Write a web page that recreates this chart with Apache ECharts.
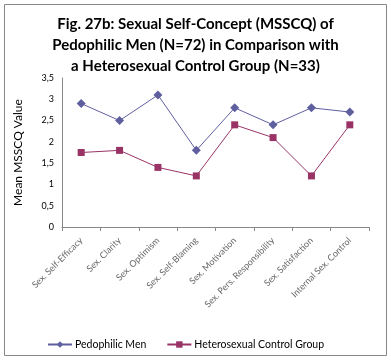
<!DOCTYPE html>
<html><head><meta charset="utf-8">
<script src="https://cdn.jsdelivr.net/npm/echarts@6/dist/echarts.min.js"></script>
<style>html,body{margin:0;padding:0;background:#fff}#c{width:391px;height:361px}</style>
</head><body><div id="c"></div>
<script>
const categories = ["Sex. Self-Efficacy","Sex. Clarity","Sex. Optimism","Sex. Self-Blaming","Sex. Motivation","Sex. Pers. Responsibility","Sex. Satisfaction","Internal Sex. Control"];
const pedophilic = [2.9, 2.5, 3.1, 1.8, 2.8, 2.4, 2.8, 2.7];
const control = [1.75, 1.8, 1.4, 1.2, 2.4, 2.1, 1.2, 2.4];
const yTicks = [0, 0.5, 1, 1.5, 2, 2.5, 3, 3.5];
const titleText = "Fig. 27b: Sexual Self-Concept (MSSCQ) of\nPedophilic Men (N=72) in Comparison with\na Heterosexual Control Group (N=33)";
const chart = echarts.init(document.getElementById('c'));
const font = 'Lato, "Open Sans", sans-serif';
chart.setOption({
  animation: false,
  graphic: [{type:'rect', shape:{x:4.5,y:4.5,width:382,height:351}, style:{fill:'none', stroke:'#888', lineWidth:1}}],
  title: {text: titleText, left: 'center', top: 9, textStyle:{fontFamily:font, fontWeight:'bold', fontSize:15, lineHeight:21, color:'#000'}},
  grid: {left: 62, right: 22, top: 78, bottom: 134},
  legend: {bottom: 6, left: 42, itemWidth: 24, itemHeight: 8, itemGap: 20,
    textStyle:{fontFamily:font, fontSize:10.5, color:'#000', padding:[0,0,0,-2]},
    data:['Pedophilic Men','Heterosexual Control Group']},
  xAxis: {type:'category', data: categories, boundaryGap: true,
    axisLine:{lineStyle:{color:'#888'}}, axisTick:{show:true, length:4, lineStyle:{color:'#888'}},
    axisLabel:{rotate:45, fontFamily:font, fontSize:9, color:'#666', margin:12, interval:0}},
  yAxis: {type:'value', min:0, max:3.5, interval:0.5,
    name:'Mean MSSCQ Value', nameLocation:'middle', nameGap:38, nameRotate:90,
    nameTextStyle:{fontFamily:font, fontSize:12, color:'#000'},
    splitLine:{show:false}, axisLine:{show:true, lineStyle:{color:'#888'}}, axisTick:{show:false},
    axisLabel:{fontFamily:font, fontSize:9, color:'#000', margin:8, formatter: v => String(v).replace('.', ',')}},
  series: [
    {name:'Pedophilic Men', type:'line', data: pedophilic, symbol:'diamond', symbolSize:9,
     itemStyle:{color:'#5f5fa0'}, lineStyle:{color:'#5f5fa0', width:1}},
    {name:'Heterosexual Control Group', type:'line', data: control, symbol:'rect', symbolSize:7,
     itemStyle:{color:'#993366'}, lineStyle:{color:'#993366', width:1}}
  ]
});
</script></body></html>
